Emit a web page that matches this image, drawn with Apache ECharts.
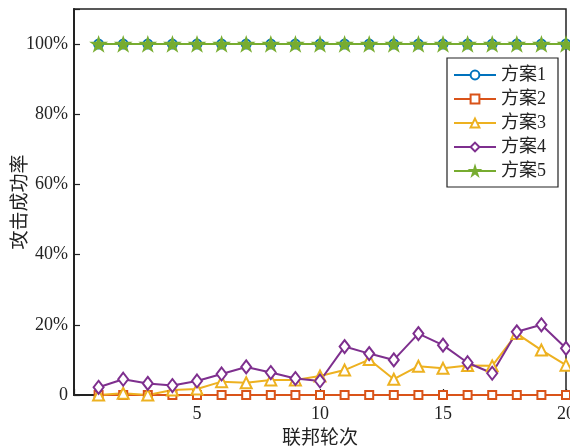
<!DOCTYPE html>
<html>
<head>
<meta charset="utf-8">
<script src="https://cdn.jsdelivr.net/npm/echarts@6/dist/echarts.min.js"></script>
<style>
html,body{margin:0;padding:0;background:#fff;}
#chart{width:570px;height:448px;}
</style>
</head>
<body>
<div id="chart"></div>
<script>
// Federated rounds on the x axis
const rounds = [1,2,3,4,5,6,7,8,9,10,11,12,13,14,15,16,17,18,19,20];
const seriesNames = ['方案1','方案2','方案3','方案4','方案5'];
// Attack success rate per scheme (%)
const plan1 = [100,100,100,100,100,100,100,100,100,100,100,100,100,100,100,100,100,100,100,100];
const plan2 = [0,0,0,0,0,0,0,0,0,0,0,0,0,0,0,0,0,0,0,0];
const plan3 = [0,0.5,0,1.4,1.7,3.8,3.5,4.3,4.3,5.4,7.1,10.1,4.5,8.2,7.6,8.4,8.3,17.5,12.8,8.5];
const plan4 = [2.2,4.5,3.3,2.7,4.0,6.0,8.0,6.4,4.7,4.0,13.8,11.8,10.0,17.5,14.2,9.2,6.2,18.0,20.0,13.3];
const plan5 = [100,100,100,100,100,100,100,100,100,100,100,100,100,100,100,100,100,100,100,100];
const yTicks = [0,20,40,60,80,100];

const colors = ['#0072BD','#D95319','#EDB120','#7E2F8E','#77AC30'];
const star = 'path://M100 0 L122.45 69.1 L195.1 69.1 L136.3 111.8 L158.8 180.9 L100 138.2 L41.2 180.9 L63.7 111.8 L4.9 69.1 L77.55 69.1 Z';
const serif = '"Liberation Serif","Times New Roman","Noto Sans CJK SC",serif';

function pairs(vals){ return rounds.map((r,i)=>[r, vals[i]]); }

function mk(name, vals, color, symbol, size){
  return {
    name: name,
    type: 'line',
    data: pairs(vals),
    symbol: symbol,
    symbolSize: size,
    showAllSymbol: true,
    clip: false,
    lineStyle: {color: color, width: 2},
    itemStyle: {color: color, borderColor: color, borderWidth: 1.6},
    emphasis: {disabled: true},
    animation: false
  };
}

const chart = echarts.init(document.getElementById('chart'), null, {renderer: 'canvas'});
chart.setOption({
  backgroundColor: '#fff',
  animation: false,
  grid: {left: 74, top: 9, right: 4, bottom: 53, outerBoundsMode: 'none', containLabel: false,
    show: true, borderColor: '#222', borderWidth: 1.5, backgroundColor: 'transparent'},
  legend: {
    orient: 'vertical',
    left: 447, top: 58,
    padding: [8, 12, 7, 6],
    itemGap: 6,
    itemWidth: 42, itemHeight: 11,
    backgroundColor: '#fff',
    borderColor: '#222', borderWidth: 1.2,
    textStyle: {fontFamily: serif, fontSize: 18, color: '#222', padding: [0,0,0,0]},
    data: seriesNames
  },
  xAxis: {
    type: 'value', min: 0, max: 20, interval: 5,
    name: '联邦轮次', nameLocation: 'middle', nameGap: 35, nameMoveOverlap: false,
    nameTextStyle: {fontFamily: serif, fontSize: 19, color: '#222'},
    axisLine: {lineStyle: {color: '#222', width: 2}},
    axisTick: {inside: true, length: 6, lineStyle: {color: '#222', width: 1.2}},
    axisLabel: {fontFamily: serif, fontSize: 18, color: '#222', margin: 10,
      formatter: v => v === 0 ? '' : String(v)},
    splitLine: {show: false}
  },
  yAxis: {
    type: 'value', min: 0, max: 110, interval: 20,
    name: '攻击成功率', nameLocation: 'middle', nameGap: 43, nameMoveOverlap: false,
    nameTextStyle: {fontFamily: serif, fontSize: 19, color: '#222'},
    axisLine: {lineStyle: {color: '#222', width: 2}},
    axisTick: {inside: true, length: 6, lineStyle: {color: '#222', width: 1.2}},
    axisLabel: {fontFamily: serif, fontSize: 18, color: '#222', margin: 6,
      formatter: v => yTicks.indexOf(v) < 0 ? '' : (v === 0 ? '0' : v + '%')},
    splitLine: {show: false}
  },
  series: [
    mk(seriesNames[0], plan1, colors[0], 'emptyCircle', 9),
    mk(seriesNames[1], plan2, colors[1], 'emptyRect', 8),
    mk(seriesNames[2], plan3, colors[2], 'emptyTriangle', 11),
    mk(seriesNames[3], plan4, colors[3], 'emptyDiamond', [10,13]),
    mk(seriesNames[4], plan5, colors[4], star, [14,13])
  ]
});
</script>
</body>
</html>
